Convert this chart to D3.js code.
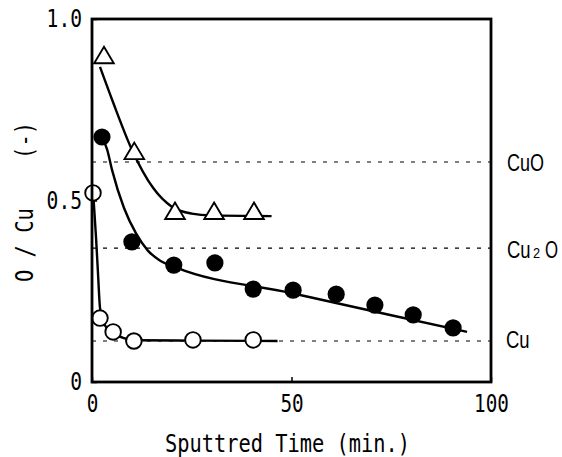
<!DOCTYPE html>
<html><head><meta charset="utf-8">
<script src="https://cdn.jsdelivr.net/npm/d3@7/dist/d3.min.js"></script>
<style>body{margin:0;background:#fff}svg{display:block}</style>
</head><body>
<svg id="c" width="562" height="457"></svg>
<script>
// ---- data ----
const xTicks = [0, 50, 100];
const yTicks = [0, 0.5, 1.0];
const yTickLabels = ["0", "0.5", "1.0"];

// open triangles
const triTime = [3.0, 10.6, 20.8, 30.6, 40.6];
const triRatio = [0.90, 0.636, 0.471, 0.471, 0.471];
// filled circles
const fillTime = [2.5, 10.0, 20.5, 30.8, 40.4, 50.4, 61.2, 70.9, 80.5, 90.5];
const fillRatio = [0.675, 0.386, 0.322, 0.328, 0.256, 0.253, 0.242, 0.212, 0.185, 0.149];
// open circles
const openTime = [0.25, 2.0, 5.3, 10.5, 25.3, 40.4];
const openRatio = [0.521, 0.176, 0.138, 0.113, 0.116, 0.116];

// fitted curves
const triCurveT = [2.0, 5.3, 10.0, 15.3, 20.0, 25.0, 30.0, 45.0];
const triCurveR = [0.868, 0.77, 0.64, 0.535, 0.483, 0.464, 0.459, 0.457];
const fillCurveT = [2.5, 3.8, 5.0, 8.0, 11.0, 14.0, 17.0, 21.0, 50.0, 75.0, 94.0];
const fillCurveR = [0.675, 0.64, 0.585, 0.48, 0.41, 0.362, 0.335, 0.316, 0.245, 0.184, 0.138];
const openCurveT = [0.3, 1.0, 1.5, 2.0, 3.0, 5.3, 8.0, 11.0, 25.0, 46.5];
const openCurveR = [0.52, 0.40, 0.30, 0.205, 0.16, 0.135, 0.121, 0.115, 0.114, 0.113];

// reference levels
const refNames = ["CuO", "Cu2O", "Cu"];
const refRatio = [0.606, 0.369, 0.113];

// ---- chart ----
const svg = d3.select("#c");
const L = 92, R = 491, T = 19, B = 382;
const x = d3.scaleLinear().domain([0, 100]).range([L, R]);
const y = d3.scaleLinear().domain([0, 1]).range([B, T]);
const mono = "'DejaVu Sans Mono', 'Liberation Mono', monospace";
const sans = "'Liberation Sans', Arial, sans-serif";

svg.append("rect").attr("width", 562).attr("height", 457).attr("fill", "#fff");

// dashed reference lines
svg.append("g").selectAll("line").data(refRatio).join("line")
  .attr("x1", L).attr("x2", R)
  .attr("y1", d => y(d)).attr("y2", d => y(d))
  .attr("stroke", "#000").attr("stroke-width", 1.2)
  .attr("stroke-dasharray", "4,7");

// curves
const line = d3.line().x(d => x(d[0])).y(d => y(d[1])).curve(d3.curveMonotoneX);
[[triCurveT, triCurveR], [fillCurveT, fillCurveR], [openCurveT, openCurveR]].forEach(([t, r]) => {
  svg.append("path").datum(t.map((v, i) => [v, r[i]]))
    .attr("d", line).attr("fill", "none")
    .attr("stroke", "#000").attr("stroke-width", 2.4);
});

// triangles
svg.append("g").selectAll("path").data(triTime.map((t, i) => [t, triRatio[i]])).join("path")
  .attr("d", d => {
    const cx = x(d[0]), cy = y(d[1]);
    return `M${cx},${cy - 8.5}L${cx + 9.8},${cy + 8}L${cx - 9.8},${cy + 8}Z`;
  })
  .attr("fill", "#fff").attr("stroke", "#000").attr("stroke-width", 1.9).attr("stroke-linejoin", "miter");

// filled circles
svg.append("g").selectAll("circle").data(fillTime.map((t, i) => [t, fillRatio[i]])).join("circle")
  .attr("cx", d => x(d[0])).attr("cy", d => y(d[1])).attr("r", 8.6)
  .attr("fill", "#000");

// open circles
svg.append("g").selectAll("circle").data(openTime.map((t, i) => [t, openRatio[i]])).join("circle")
  .attr("cx", d => x(d[0])).attr("cy", d => y(d[1])).attr("r", 7.8)
  .attr("fill", "#fff").attr("stroke", "#000").attr("stroke-width", 1.9);

// frame
svg.append("rect").attr("x", L).attr("y", T).attr("width", R - L).attr("height", B - T)
  .attr("fill", "none").attr("stroke", "#000").attr("stroke-width", 2.8);

// axes
const xAxis = svg.append("g").attr("transform", `translate(0,${B})`)
  .call(d3.axisBottom(x).tickValues(xTicks).tickFormat(d3.format("d"))
    .tickSizeInner(-5).tickSizeOuter(0).tickPadding(13));
xAxis.select(".domain").remove();
xAxis.selectAll("line").attr("stroke-width", 1.5);
xAxis.selectAll("text").attr("font-family", mono).attr("font-size", 24).attr("fill", "#000")
  .attr("textLength", d => String(d).length * 11.6).attr("lengthAdjust", "spacingAndGlyphs");

const yAxis = svg.append("g").attr("transform", `translate(${L},0)`)
  .call(d3.axisLeft(y).tickValues(yTicks).tickFormat((d, i) => yTickLabels[i])
    .tickSizeInner(-5).tickSizeOuter(0).tickPadding(10));
yAxis.select(".domain").remove();
yAxis.selectAll("line").attr("stroke-width", 1.5);
yAxis.selectAll("text").attr("font-family", mono).attr("font-size", 24).attr("fill", "#000")
  .attr("textLength", (d, i) => yTickLabels[i].length * 11.8).attr("lengthAdjust", "spacingAndGlyphs");

// axis titles
svg.append("text").attr("x", 287.5).attr("y", 452).attr("text-anchor", "middle")
  .attr("font-family", mono).attr("font-size", 25)
  .attr("textLength", 245).attr("lengthAdjust", "spacingAndGlyphs")
  .text("Sputtred Time (min.)");

svg.append("text").attr("transform", "translate(33,202) rotate(-90)")
  .attr("text-anchor", "middle").attr("font-family", mono).attr("font-size", 24)
  .style("white-space", "pre").attr("xml:space", "preserve")
  .attr("textLength", 160).attr("lengthAdjust", "spacingAndGlyphs")
  .text("O / Cu    (-)");

// reference labels (horizontally condensed)
const lab = svg.append("g").attr("font-family", sans).attr("font-size", 24).attr("fill", "#000");
const put = (tx, ty, s, str, fs) => {
  const t = lab.append("text").attr("transform", `translate(${tx},${ty}) scale(${s},1)`).text(str);
  if (fs) t.attr("font-size", fs);
};
put(507, y(refRatio[0]) + 9, 0.75, "CuO");
put(507, y(refRatio[1]) + 10, 0.77, "Cu");
put(533, y(refRatio[1]) + 10, 0.85, "2", 15);
put(545, y(refRatio[1]) + 10, 0.7, "O");
put(506, y(refRatio[2]) + 7, 0.77, "Cu");
</script>
</body></html>
